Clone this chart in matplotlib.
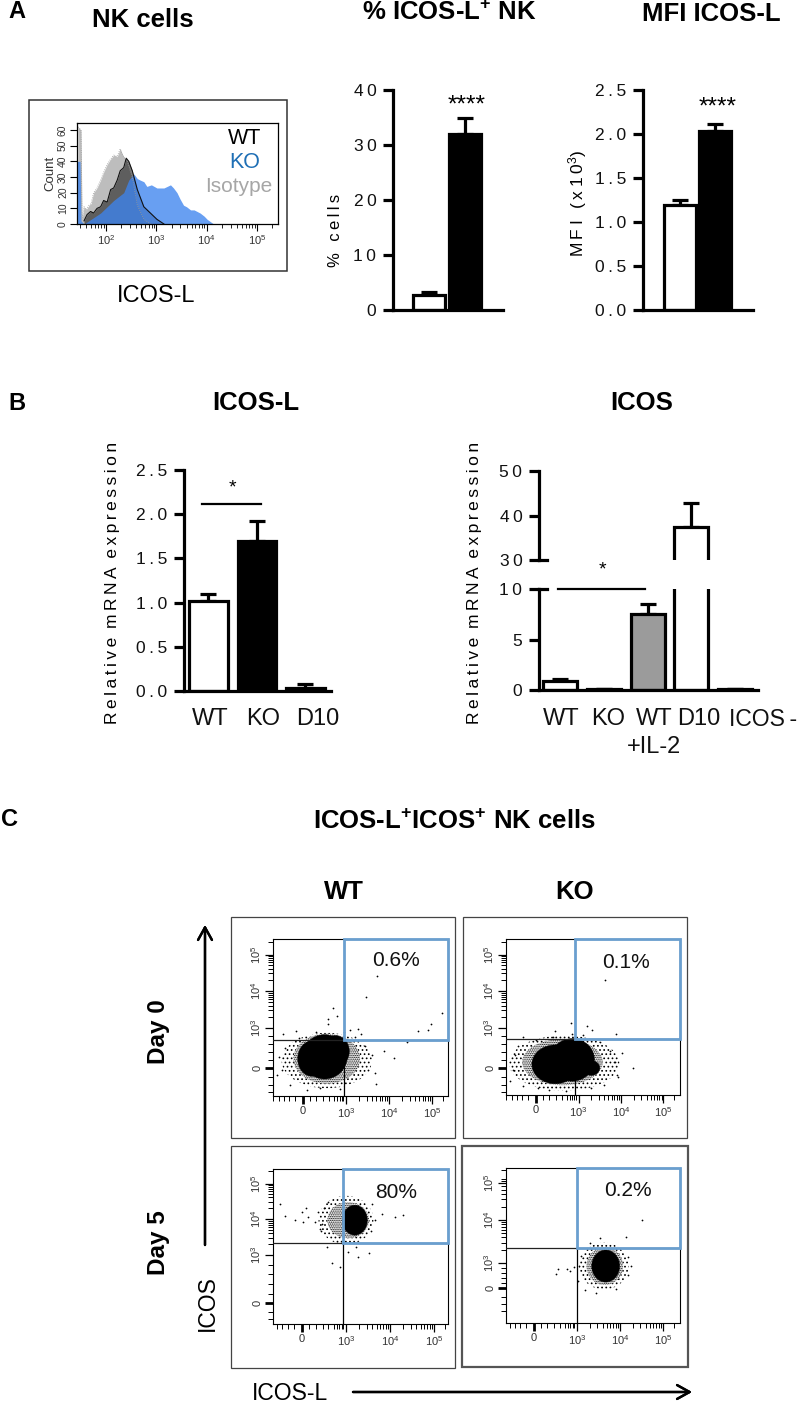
import numpy as np
import matplotlib
matplotlib.use("Agg")
import matplotlib.pyplot as plt
from matplotlib.patches import Rectangle, Ellipse

plt.rcParams['font.family'] = ['Liberation Sans', 'DejaVu Sans']
plt.rcParams['mathtext.fontset'] = 'custom'
plt.rcParams['mathtext.rm'] = 'Liberation Sans'
plt.rcParams['mathtext.it'] = 'Liberation Sans'
plt.rcParams['mathtext.bf'] = 'Liberation Sans:bold'
plt.rcParams['hatch.linewidth'] = 0.7

W, H = 800, 1403

# panel A histogram, x is log10 of ICOS-L
iso_x = [1.44, 1.50, 1.52, 1.56, 1.60, 1.66, 1.70, 1.75, 1.82, 1.89, 1.95, 2.02, 2.08, 2.15, 2.22, 2.28, 2.33, 2.42, 2.52, 2.62, 2.75, 2.88]
iso_y = [62, 60, 3, 11, 9, 12, 13, 20, 23, 28, 33, 38, 41, 44, 43, 48, 44, 40, 30, 12, 3, 0]
wt_x = [1.56, 1.62, 1.69, 1.75, 1.82, 1.89, 1.95, 2.02, 2.09, 2.15, 2.22, 2.28, 2.35, 2.40, 2.45, 2.52, 2.62, 2.75, 2.88, 3.01, 3.15]
wt_y = [2, 6, 8, 7, 10, 11, 15, 14, 22, 23, 28, 34, 36, 42, 40, 34, 22, 11, 7, 3, 0]
ko_x = [1.42, 1.48, 1.50, 1.56, 1.89, 2.15, 2.35, 2.45, 2.55, 2.62, 2.68, 2.75, 2.81, 2.90, 3.01, 3.15, 3.28, 3.34, 3.41, 3.47, 3.54, 3.60, 3.68, 3.75, 3.87, 3.95, 4.01, 4.14]
ko_y = [40, 40, 2, 0, 7, 15, 20, 28, 32, 29, 28, 27, 24, 25, 23, 23, 25, 23, 20, 16, 12, 11, 9, 9, 7, 5, 3, 0]
hist_tick_exp = [2, 3, 4, 5]

# panel A bars
pct_vals = [2.7, 32.0]
pct_errs = [0.6, 2.9]
mfi_vals = [1.19, 2.03]
mfi_errs = [0.06, 0.08]

# panel B bars
icosl_labels = ['WT', 'KO', 'D10']
icosl_vals = [1.02, 1.70, 0.03]
icosl_errs = [0.08, 0.22, 0.05]
icos_labels = ['WT', 'KO', 'WT', 'D10']
icos_vals = [0.9, 0.08, 7.5, 37.5, 0.08]
icos_errs = [0.2, 0.05, 1.0, 5.3, 0.05]
icos_colors = ['white', 'black', '#9b9b9b', 'white', 'black']

# panel C dot plots (decades on both axes, 0 tick sits at 0)
pct_text = ['0.6%', '0.1%', '80%', '0.2%']
gate_x = [0.95, 0.92, 0.93, 1.00]
gate_y = [0.76, 0.78, 1.67, 1.11]
x_lims = [(-0.70, 3.37), (-0.71, 3.39), (-0.66, 3.32), (-0.65, 3.40)]
y_lims = [(-0.76, 3.49), (-0.73, 3.49), (-0.58, 3.72), (-0.97, 3.33)]
y_majors = [[0, 1.08, 2.08, 3.05], [0, 1.08, 2.08, 3.05], [0, 1.33, 2.33, 3.31], [0, 0.69, 1.89, 2.92]]
# the clouds: solid middle, dense speckle, thin speckle (cx, cy, w, h)
core_blobs = [
    [(0.50, 0.30, 1.05, 1.20), (0.20, 0.25, 0.65, 0.95), (0.75, 0.45, 0.65, 0.85)],
    [(0.45, 0.10, 1.10, 1.05), (0.85, 0.22, 1.05, 1.15), (1.30, 0.00, 0.40, 0.40)],
    [(1.20, 2.30, 0.57, 0.83)],
    [(1.67, 0.61, 0.65, 0.89)],
]
mid_blobs = [(0.55, 0.25, 1.55, 1.35), (0.62, 0.16, 1.90, 1.25), (1.05, 2.30, 0.95, 1.00), (1.65, 0.61, 0.85, 1.05)]
outer_blobs = [(0.55, 0.20, 2.10, 1.50), (0.66, 0.13, 2.60, 1.50), (1.00, 2.30, 1.25, 1.35), (1.63, 0.61, 1.15, 1.30)]
stray_x = [
    [1.72, 1.46, 3.23, 2.98, 2.91, 2.67, 0.70, 0.79, 0.58, 0.58, 2.42, 1.88, 2.12, 1.70, 1.28, 1.09, -0.47, -0.16,
     -0.55, -0.50, -0.42, -0.60, -0.30, 0.10, 0.40, 0.85, 1.20, 1.45, 1.60, 1.52, 1.68, 1.35, 0.95, 0.30, -0.10],
    [1.62, 0.82, 1.20, 1.32, 1.88, 0.45, -0.31, 2.28, 2.02, 1.93,
     -0.50, -0.55, -0.42, -0.62, -0.30, 0.05, 0.30, 0.70, 1.10, 1.50, 1.75, 1.85, 1.90, 1.60, 1.30, 0.85, 0.40, 0.00],
    [-0.50, -0.39, -0.16, 0.00, 0.09, 0.14, 0.03, 0.30, 0.36, 0.41, 1.82, 2.11, 2.30, 0.57, 0.68, 0.86, 1.52, 1.27, 1.05, 1.23,
     0.50, 0.46, 0.44, 0.60, 1.60, 1.66, 1.58],
    [2.51, 2.14, 0.51, 0.56, 0.77, 0.93, 0.84, 1.53, 1.10, 1.05, 1.02, 1.20, 2.18, 2.25, 2.20, 1.90, 1.45, 1.30],
]
stray_y = [
    [2.50, 1.92, 1.49, 1.19, 1.03, 1.00, 1.62, 1.40, 1.32, 1.20, 0.70, 0.46, 0.27, -0.43, 1.05, 1.03, 0.92, 1.00,
     0.30, -0.05, 0.55, -0.20, -0.45, -0.60, -0.55, -0.58, 0.85, 0.60, 0.35, -0.05, -0.15, 0.92, 0.98, 0.98, 0.80],
    [2.38, 1.21, 1.14, 1.03, 0.92, 1.00, 0.84, 0.00, 0.40, -0.24,
     0.35, -0.05, 0.60, -0.35, -0.50, -0.55, -0.60, -0.62, 0.88, 0.70, 0.45, 0.15, -0.20, -0.45, -0.55, 0.92, 0.85, 0.75],
    [2.75, 2.42, 2.30, 2.53, 2.64, 2.39, 2.25, 2.25, 2.53, 2.06, 2.47, 2.39, 2.44, 1.56, 1.11, 1.00, 1.39, 1.28, 1.42, 1.56,
     2.65, 2.20, 2.00, 2.80, 2.75, 2.30, 2.00],
    [1.89, 1.42, 0.39, 0.53, 0.53, 0.58, 0.47, 1.39, 0.90, 0.60, 0.20, -0.05, 0.85, 0.60, 0.35, -0.02, -0.15, 1.25],
]


def px_axes(x0, y0, x1, y1):
    # box given in picture pixels, y going down
    return fig.add_axes([x0 / W, 1 - y1 / H, (x1 - x0) / W, (y1 - y0) / H])


def px_text(x, y, s, size=11, **kw):
    kw.setdefault('ha', 'center')
    kw.setdefault('va', 'center')
    return fig.text(x / W, 1 - y / H, s, fontsize=size, **kw)


def px_box(x0, y0, x1, y1, color='#444444', lw=0.9):
    fig.add_artist(Rectangle((x0 / W, 1 - y1 / H), (x1 - x0) / W, (y1 - y0) / H,
                             transform=fig.transFigure, fill=False, ec=color, lw=lw))


def px_arrow(x0, y0, x1, y1):
    fig.add_artist(plt.annotate('', xy=(x1 / W, 1 - y1 / H), xytext=(x0 / W, 1 - y0 / H),
                                xycoords='figure fraction', textcoords='figure fraction',
                                arrowprops=dict(arrowstyle='->,head_width=0.5,head_length=0.9',
                                                lw=1.7, color='black', shrinkA=0, shrinkB=0)))


def spaced(s):
    return '\u2009'.join(s)


def bar_axis(ax, yticks, ylabels):
    for side in ['top', 'right']:
        ax.spines[side].set_visible(False)
    ax.spines['left'].set_linewidth(2.3)
    ax.spines['bottom'].set_linewidth(2.3)
    ax.set_yticks(yticks)
    ax.set_yticklabels(ylabels, fontsize=12.5, color='#111111')
    ax.tick_params(axis='y', length=7, width=2.3, pad=5)
    ax.tick_params(axis='x', length=0)
    ax.set_xticks([])
    ax.patch.set_alpha(0)


def draw_bars(ax, vals, errs, colors, width):
    for i in range(len(vals)):
        ax.errorbar(i, vals[i], yerr=[[0], [errs[i]]], color='black', elinewidth=2.3,
                    capsize=6, capthick=2.3, zorder=1)
        ax.bar(i, vals[i], width=width, color=colors[i], edgecolor='black', linewidth=2.3, zorder=2)


def flow_panel(n, box, inner, pct_pos):
    px_box(*box, color='#444444' if n < 3 else '#555555', lw=0.9 if n < 3 else 1.6)
    ax = px_axes(*inner)
    ax.set_xlim(*x_lims[n])
    ax.set_ylim(*y_lims[n])
    for sp in ax.spines.values():
        sp.set_linewidth(0.8)
    # scatter cloud
    cx, cy, cw, ch = outer_blobs[n]
    ax.add_patch(Ellipse((cx, cy), cw, ch, fc='white', ec='black', lw=0, hatch='....', zorder=1))
    cx, cy, cw, ch = mid_blobs[n]
    ax.add_patch(Ellipse((cx, cy), cw, ch, fc='white', ec='black', lw=0, hatch='.........', zorder=1.5))
    for cx, cy, cw, ch in core_blobs[n]:
        ax.add_patch(Ellipse((cx, cy), cw, ch, fc='black', ec='black', lw=0.3, zorder=2))
    ax.scatter(stray_x[n], stray_y[n], s=1.6, color='black', lw=0, zorder=3)
    # quadrant lines and blue gate
    xmin, xmax = x_lims[n]
    ymin, ymax = y_lims[n]
    ax.plot([xmin, xmax], [gate_y[n], gate_y[n]], color='#222222', lw=0.9, zorder=4)
    ax.plot([gate_x[n], gate_x[n]], [ymin, gate_y[n]], color='black', lw=0.9, zorder=4)
    ax.add_patch(Rectangle((gate_x[n], gate_y[n]), xmax - gate_x[n], ymax - gate_y[n], fill=False,
                           ec='#6a9fcf', lw=2.0, zorder=5, clip_on=False))
    px_text(pct_pos[0], pct_pos[1], pct_text[n], 15, color='#111111', zorder=6)

    # ticks
    xm = [0, 1, 2, 3]
    lin = [-0.70, -0.56, -0.45, -0.33, -0.18, 0.16, 0.31, 0.47, 0.60, 0.72, 0.80, 0.85, 0.90, 0.93]
    logs = np.log10(np.arange(2, 10))
    minor_x = lin + list(1 + logs) + list(2 + logs) + [3.25]
    ax.set_xticks(xm)
    ax.set_xticklabels(['0', r'$10^{3}$', r'$10^{4}$', r'$10^{5}$'], fontsize=8, color='#333333')
    ax.set_xticks([t for t in minor_x if xmin <= t <= xmax], minor=True)
    ym = y_majors[n]
    dec = ym[2] - ym[1]
    minor_y = [-0.65, -0.45, -0.25, 0.2 * ym[1], 0.4 * ym[1], 0.6 * ym[1], 0.8 * ym[1]]
    minor_y += list(ym[1] + logs * dec) + list(ym[2] + logs * dec) + [ym[3] + 0.35]
    ax.set_yticks(ym)
    ax.set_yticklabels(['0', r'$10^{3}$', r'$10^{4}$', r'$10^{5}$'], fontsize=8, color='#333333',
                       rotation=90, va='center')
    ax.set_yticks([t for t in minor_y if ymin <= t <= ymax], minor=True)
    ax.tick_params(which='major', length=6, width=0.9, pad=1.5)
    ax.tick_params(which='minor', length=3.5, width=0.7)
    ax.xaxis.get_major_ticks()[0].tick1line.set_markeredgewidth(2)
    ax.yaxis.get_major_ticks()[0].tick1line.set_markeredgewidth(2)


fig = plt.figure(figsize=(W / 100, H / 100), dpi=100)

# section letters and titles
px_text(17, 11, 'A', 17, fontweight='bold')
px_text(17, 403, 'B', 17, fontweight='bold')
px_text(9, 820, 'C', 17, fontweight='bold')
px_text(143, 20, 'NK cells', 18.5, fontweight='bold')
px_text(449, 1, '% ICOS-L$\\mathbf{^{+}}$ NK', 18.5, fontweight='bold', va='top')
px_text(711, 14, 'MFI ICOS-L', 18.5, fontweight='bold')
px_text(256, 403, 'ICOS-L', 18.5, fontweight='bold')
px_text(642, 403, 'ICOS', 18.5, fontweight='bold')
px_text(454, 822, 'ICOS-L$\\mathbf{^{+}}$ICOS$\\mathbf{^{+}}$ NK cells', 18.5, fontweight='bold')
px_text(344, 892, 'WT', 18.5, fontweight='bold')
px_text(575, 892, 'KO', 18.5, fontweight='bold')

# histogram
px_box(29, 100, 287, 271, color='#333333', lw=1.1)
ax = px_axes(77, 123, 278, 224)
ax.fill_between(10.0 ** np.array(iso_x), iso_y, color='#bdbdbd', lw=0)
ax.plot(10.0 ** np.array(iso_x), iso_y, color='#999999', lw=0.6, ls=':')
ax.fill_between(10.0 ** np.array(wt_x), wt_y, color='black', alpha=0.5, lw=0)
ax.fill_between(10.0 ** np.array(ko_x), ko_y, color='#3d84ef', alpha=0.78, lw=0)
ax.plot(10.0 ** np.array(wt_x), wt_y, color='#111111', lw=0.8)
ax.set_xscale('log')
ax.set_xlim(10 ** 1.42, 10 ** 5.42)
ax.set_ylim(0, 64.5)
ax.set_xticks([10.0 ** e for e in hist_tick_exp])
ax.set_xticklabels([f'$10^{{{e}}}$' for e in hist_tick_exp], fontsize=8, color='#333333')
ax.set_yticks([0, 10, 20, 30, 40, 50, 60])
ax.set_yticklabels(['0', '10', '20', '30', '40', '50', '60'], fontsize=7.5, rotation=90, va='center', color='#333333')
ax.set_ylabel('Count', fontsize=9.5, labelpad=1, color='#333333')
ax.tick_params(which='major', length=5, width=0.8, pad=1.5)
ax.tick_params(which='minor', length=3, width=0.6, labelbottom=False)
for side in ['top', 'right', 'left', 'bottom']:
    ax.spines[side].set_linewidth(0.9)
px_text(245, 139, 'WT', 15.5, color='black')
px_text(245, 163, 'KO', 15.5, color='#1f6fb5')
px_text(239, 187, 'Isotype', 15, color='#a6a6a6')
px_text(156, 296, 'ICOS-L', 17)

# % ICOS-L+ cells
ax = px_axes(393, 90, 503, 310)
draw_bars(ax, pct_vals, pct_errs, ['white', 'black'], 0.9)
ax.set_xlim(-1.0, 2.06)
ax.set_ylim(0, 40)
bar_axis(ax, [0, 10, 20, 30, 40], ['0', spaced('10'), spaced('20'), spaced('30'), spaced('40')])
px_text(467, 106, '****', 17.5)
px_text(336, 230, spaced('% cells'), 12, rotation=90)

# MFI ICOS-L
ax = px_axes(643, 90, 753, 310)
draw_bars(ax, mfi_vals, mfi_errs, ['white', 'black'], 0.94)
ax.set_xlim(-1.06, 2.09)
ax.set_ylim(0, 2.5)
bar_axis(ax, [0, 0.5, 1.0, 1.5, 2.0, 2.5], [spaced(t) for t in ['0.0', '0.5', '1.0', '1.5', '2.0', '2.5']])
px_text(718, 108, '****', 17.5)
px_text(578, 204, spaced('MFI (x10') + '$^{3}$' + ')', 12.5, rotation=90)

ylab_mrna = spaced('Relative') + '\u2002' + spaced('mRNA') + '\u2002' + spaced('expression')

# ICOS-L mRNA
ax = px_axes(184, 470, 331, 691)
draw_bars(ax, icosl_vals, icosl_errs, ['white', 'black', 'black'], 0.8)
ax.set_xlim(-0.505, 2.526)
ax.set_ylim(0, 2.5)
bar_axis(ax, [0, 0.5, 1.0, 1.5, 2.0, 2.5], [spaced(t) for t in ['0.0', '0.5', '1.0', '1.5', '2.0', '2.5']])
ax.plot([-0.13, 1.08], [2.115, 2.115], color='black', lw=1.6, clip_on=False)
px_text(232, 488, '*', 14)
for x, lab in zip([210, 263, 318], icosl_labels):
    px_text(x, 719, lab, 17, color='#111111')
px_text(112, 583, ylab_mrna, 12.5, rotation=90)

# ICOS mRNA, broken axis: the bars get clipped at the break
xl = (-0.49, 4.53)
ax_low = px_axes(539, 589, 758, 690)
ax_up = px_axes(539, 471, 758, 560)
for a in [ax_low, ax_up]:
    draw_bars(a, icos_vals, icos_errs, icos_colors, 0.78)
    a.set_xlim(*xl)
ax_low.set_ylim(0, 10)
ax_up.set_ylim(30, 50)
bar_axis(ax_low, [0, 5, 10], ['0', '5', spaced('10')])
bar_axis(ax_up, [30, 40, 50], [spaced('30'), spaced('40'), spaced('50')])
ax_up.spines['bottom'].set_visible(False)
ax_low.plot([xl[0], xl[0] + 0.18], [10, 10], color='black', lw=2.3, clip_on=False)
ax_up.plot([xl[0], xl[0] + 0.18], [30, 30], color='black', lw=2.3, clip_on=False)
ax_low.plot([-0.05, 1.95], [10, 10], color='black', lw=1.6, clip_on=False)
px_text(602, 570, '*', 14)
for x, lab in zip([561, 608, 654, 699], icos_labels):
    px_text(x, 719, lab, 17, color='#111111')
px_text(654, 747, '+IL-2', 17, color='#111111')
px_text(729, 719, 'ICOS\u2009-', 16.5, color='#111111', ha='left')
px_text(474, 583, ylab_mrna, 12.5, rotation=90)

# flow panels
flow_panel(0, (231, 917, 455, 1138), (273, 939, 448, 1096), (396, 961))
flow_panel(1, (463, 917, 687, 1138), (506, 939, 680, 1095), (626, 962))
flow_panel(2, (231, 1146, 455, 1368), (273, 1169, 448, 1324), (396, 1192))
flow_panel(3, (462, 1146, 688, 1367), (506, 1168, 680, 1323), (628, 1190))

px_text(158, 1032, 'Day 0', 17.5, fontweight='bold', rotation=90)
px_text(158, 1243, 'Day 5', 17.5, fontweight='bold', rotation=90)
px_text(207, 1303, 'ICOS', 16.5, rotation=90)
px_text(290, 1393, 'ICOS-L', 16.5)
px_arrow(205, 1245, 205, 925)
px_arrow(353, 1392, 692, 1392)

fig.savefig('out.png', dpi=100)
